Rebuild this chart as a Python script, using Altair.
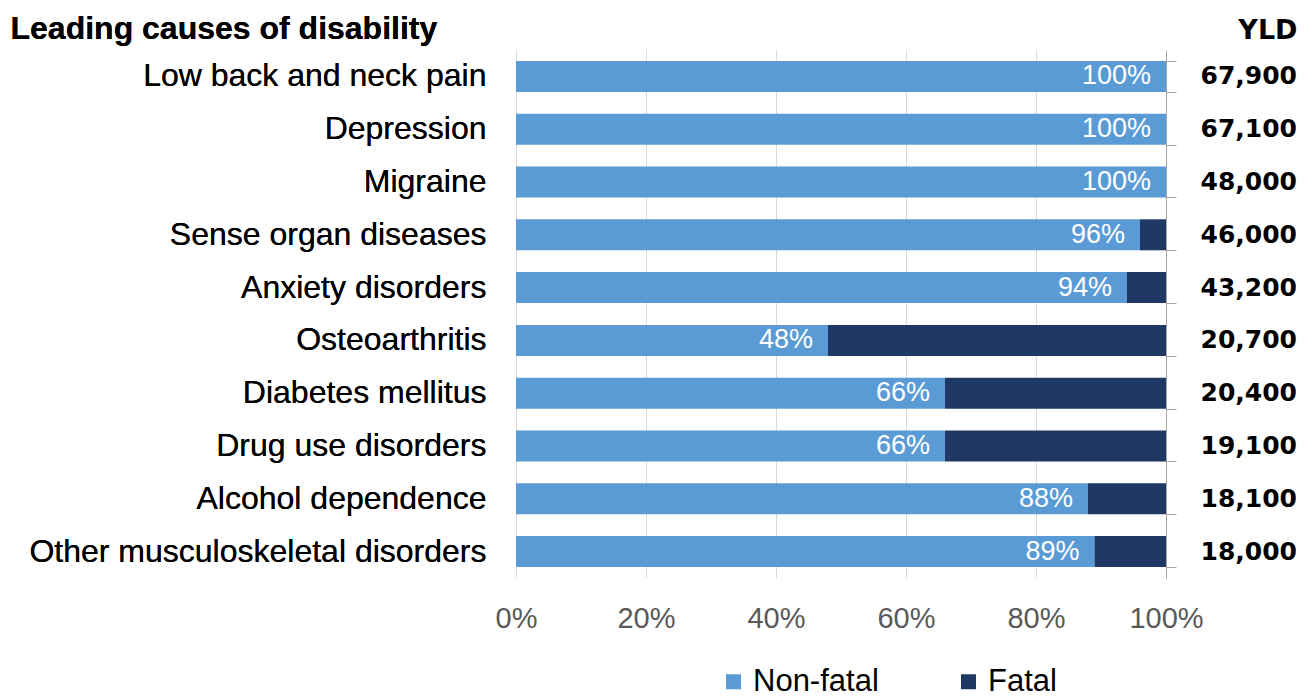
import altair as alt
import pandas as pd

causes = ["Low back and neck pain", "Depression", "Migraine", "Sense organ diseases",
          "Anxiety disorders", "Osteoarthritis", "Diabetes mellitus", "Drug use disorders",
          "Alcohol dependence", "Other musculoskeletal disorders"]
nonfatal = [100, 100, 100, 96, 94, 48, 66, 66, 88, 89]
fatal = [0, 0, 0, 4, 6, 52, 34, 34, 12, 11]
yld = [67900, 67100, 48000, 46000, 43200, 20700, 20400, 19100, 18100, 18000]
series = ["Non-fatal", "Fatal"]
colors = ["#5B9BD5", "#203864"]
x_ticks = [0, 20, 40, 60, 80, 100]

rows = []
for c, nf, f in zip(causes, nonfatal, fatal):
    rows.append({"cause": c, "series": "Non-fatal", "value": nf, "ord": 0})
    rows.append({"cause": c, "series": "Fatal", "value": f, "ord": 1})
df = pd.DataFrame(rows)
lab = pd.DataFrame({"cause": causes, "nonfatal": nonfatal,
                    "pct": [f"{v}%" for v in nonfatal],
                    "yld": [f"{v:,}" for v in yld]})

FONT = "Liberation Sans"
NUMFONT = "DejaVu Sans"
ysc = alt.Scale(domain=causes, paddingInner=0.413, paddingOuter=0.2065)
xsc = alt.Scale(domain=[0, 100])

xaxis = alt.Axis(values=x_ticks, labelExpr="datum.value + '%'", grid=True,
                 gridColor="#D9D9D9", domain=False, ticks=False, labelFlush=False,
                 labelFontSize=29, labelColor="#595959", labelFont=FONT,
                 labelPadding=26, title=None)
yaxis_left = alt.Axis(orient="left", title="Leading causes of disability",
                      titleAngle=0, titleAlign="left", titleBaseline="alphabetic",
                      titleX=-506, titleY=-12, titleFontSize=32, titleFontWeight="bold",
                      titleFont=FONT, titleColor="black",
                      labelFont=FONT, labelFontSize=32, labelColor="black",
                      labelPadding=30, ticks=False, domain=False, grid=False,
                      labelLimit=600)

bars = alt.Chart(df).mark_bar().encode(
    y=alt.Y("cause:N", scale=ysc, sort=causes, axis=yaxis_left),
    x=alt.X("value:Q", stack="zero", scale=xsc, axis=xaxis),
    color=alt.Color("series:N", scale=alt.Scale(domain=series, range=colors),
                    legend=alt.Legend(title=None, orient="none", legendX=202, legendY=616,
                                      direction="horizontal", symbolType="square",
                                      symbolSize=225, symbolStrokeWidth=0,
                                      labelFontSize=31, labelFont=FONT, labelColor="black",
                                      labelOffset=4, columnPadding=74)),
    order=alt.Order("ord:Q"),
)

pct = alt.Chart(lab).mark_text(align="right", baseline="middle", dx=-15, color="white",
                               fontSize=27, font=FONT).encode(
    y=alt.Y("cause:N", scale=ysc, sort=causes, axis=yaxis_left),
    x=alt.X("nonfatal:Q", scale=xsc, axis=xaxis),
    text="pct:N",
)

yldtext = alt.Chart(lab).mark_text(align="right", baseline="middle", fontSize=25,
                                   font=NUMFONT, fontWeight="bold", color="black").encode(
    y=alt.Y("cause:N", scale=ysc, sort=causes,
            axis=alt.Axis(orient="right", tickBand="extent", labels=False, ticks=True,
                          tickSize=10, tickColor="#A6A6A6", domainColor="#A6A6A6",
                          grid=False, title="YLD", titleAngle=0, titleAlign="right",
                          titleBaseline="alphabetic", titleX=131, titleY=-12,
                          titleFont=NUMFONT, titleFontSize=27, titleFontWeight="bold",
                          titleColor="black")),
    x=alt.value(781),
    text="yld:N",
)

chart = alt.layer(bars, pct, yldtext).resolve_axis(y="independent").properties(
    width=650, height=528,
    autosize=alt.AutoSizeParams(type="none"),
    padding={"left": 516, "top": 50, "right": 148, "bottom": 122},
).configure_view(stroke=None)

chart.save("out.html", embed_options={"renderer": "svg", "actions": False})
